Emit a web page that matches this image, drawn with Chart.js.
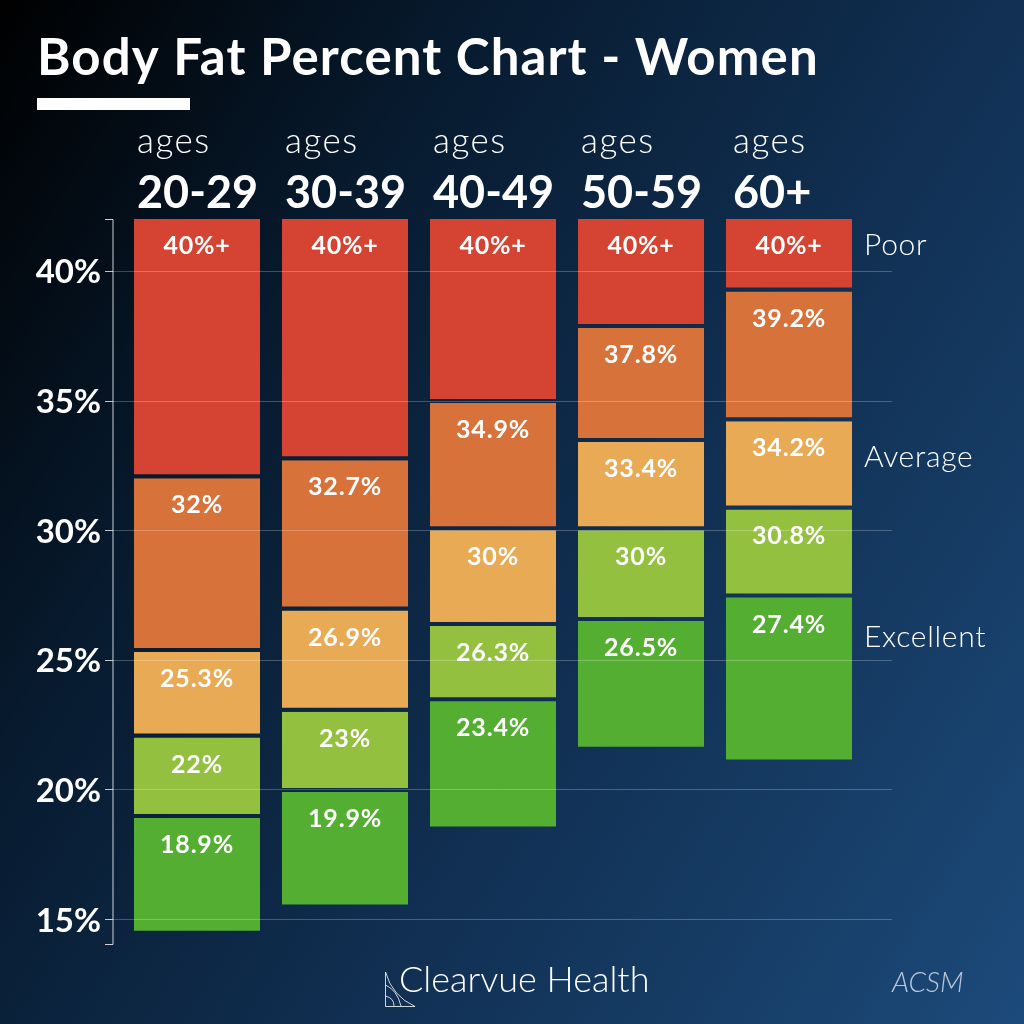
<!DOCTYPE html>
<html>
<head>
<meta charset="utf-8">
<title>Body Fat Percent Chart - Women</title>
<script src="https://cdn.jsdelivr.net/npm/chart.js@4"></script>
<style>
  html, body { margin: 0; padding: 0; }
  body { width: 1024px; height: 1024px; overflow: hidden; background: linear-gradient(122deg, #000000 0%, #071a2e 28%, #102e50 58%, #1c4a7a 100%); }
  canvas { display: block; }
</style>
</head>
<body>
<canvas id="chart" width="1024" height="1024"></canvas>
<script>
const ages = ['20-29', '30-39', '40-49', '50-59', '60+']
const yTicks = [15, 20, 25, 30, 35, 40]
const ratings = ['Poor', 'Average', 'Excellent']

// top of each coloured block
const poorTop = [42, 42, 42, 42, 42]
const highTop = [32, 32.7, 34.9, 37.8, 39.2]
const averageTop = [25.3, 26.9, 30, 33.4, 34.2]
const goodTop = [22, 23, 26.3, 30, 30.8]
const excellentTop = [18.9, 19.9, 23.4, 26.5, 27.4]
const excellentBottom = [14.55, 15.56, 18.57, 21.65, 21.15]

const bandColors = ['#d54432', '#d8723b', '#e9aa55', '#93c13f', '#53ae32']
const FONT = 'Lato, sans-serif'

function getFloatingBars(tops, bottoms) {
  return tops.map((top, i) => [bottoms[i], top])
}

function getDataset(tops, bottoms, color, gap = 4) {
  return {
    data: getFloatingBars(tops, bottoms),
    backgroundColor: color,
    borderColor: 'transparent',
    borderWidth: { top: 0, left: 0, right: 0, bottom: gap },
    borderSkipped: false,
    inflateAmount: 0,
    barThickness: 126,
    grouped: false,
  }
}

function drawText(ctx, text, x, y, font, align = 'left', color = '#fff', spacing = '0px') {
  ctx.font = font
  ctx.textAlign = align
  ctx.textBaseline = 'alphabetic'
  ctx.fillStyle = color
  ctx.letterSpacing = spacing
  ctx.fillText(text, x, y)
  ctx.letterSpacing = '0px'
}

const decorPlugin = {
  id: 'decor',
  afterDatasetsDraw(chart) {
    const { ctx, scales: { x, y } } = chart
    ctx.save()

    // grid lines run over the bars and past the plot area
    ctx.lineWidth = 1
    yTicks.forEach(tick => {
      const py = Math.round(y.getPixelForValue(tick)) + 0.5
      ctx.strokeStyle = 'rgba(255,255,255,0.24)'
      ctx.beginPath()
      ctx.moveTo(113, py)
      ctx.lineTo(892, py)
      ctx.stroke()
      ctx.strokeStyle = 'rgba(255,255,255,0.75)'
      ctx.beginPath()
      ctx.moveTo(105, py)
      ctx.lineTo(113, py)
      ctx.stroke()
    })

    // bracket on the left
    const top = y.getPixelForValue(y.max) + 0.5
    const bottom = y.getPixelForValue(y.min) - 0.5
    ctx.strokeStyle = 'rgba(255,255,255,0.8)'
    ctx.beginPath()
    ctx.moveTo(105, top)
    ctx.lineTo(113, top)
    ctx.lineTo(113, bottom)
    ctx.lineTo(105, bottom)
    ctx.stroke()

    // values inside the blocks
    chart.data.datasets.forEach((dataset, d) => {
      chart.getDatasetMeta(d).data.forEach((bar, i) => {
        const label = d === 0 ? '40%+' : dataset.data[i][1] + '%'
        drawText(ctx, label, bar.x, bar.y + 35, '700 25px ' + FONT, 'center', '#fff', '0.8px')
      })
    })

    // age headers
    ages.forEach((age, i) => {
      const left = x.getPixelForValue(i) - 60 + (i === 4 ? 4 : 0)
      drawText(ctx, 'ages', left, 153, '300 35px ' + FONT, 'left', '#fff', '1.5px')
      drawText(ctx, age, left, 208, '700 45px ' + FONT)
    })

    // rating names on the right
    const ratingY = [255, 467, 647]
    ratings.forEach((rating, i) => {
      drawText(ctx, rating, 864, ratingY[i], '300 30px ' + FONT, 'left', '#fff', '0.7px')
    })

    // title block
    drawText(ctx, 'Body Fat Percent Chart - Women', 37, 75, '700 51px ' + FONT, 'left', '#fff', '1.1px')
    ctx.fillStyle = '#fff'
    ctx.fillRect(37, 98, 153, 12)

    // footer
    ctx.strokeStyle = 'rgba(255,255,255,0.8)'
    ctx.beginPath()
    ctx.moveTo(385.5, 972)
    ctx.lineTo(385.5, 1006.5)
    ctx.lineTo(415, 1006.5)
    ctx.quadraticCurveTo(392, 996, 385.5, 972)
    ctx.moveTo(385.5, 985)
    ctx.quadraticCurveTo(397, 990, 401, 1006)
    ctx.moveTo(385.5, 996)
    ctx.quadraticCurveTo(394, 998, 394, 1006)
    ctx.stroke()
    drawText(ctx, 'Clearvue Health', 399, 992, '300 36px ' + FONT)
    drawText(ctx, 'ACSM', 892, 992, 'italic 300 28px ' + FONT, 'left', '#b9c8dc')

    ctx.restore()
  }
}

new Chart(document.getElementById('chart').getContext('2d'), {
  type: 'bar',
  data: {
    labels: ages,
    datasets: [
      getDataset(poorTop, highTop, bandColors[0]),
      getDataset(highTop, averageTop, bandColors[1]),
      getDataset(averageTop, goodTop, bandColors[2]),
      getDataset(goodTop, excellentTop, bandColors[3]),
      getDataset(excellentTop, excellentBottom, bandColors[4], 0),
    ],
  },
  options: {
    responsive: false,
    animation: false,
    layout: { padding: { top: 219, right: 161, bottom: 79, left: 0 } },
    plugins: { legend: { display: false }, tooltip: { enabled: false } },
    scales: {
      x: { display: false },
      y: {
        min: 14,
        max: 42,
        afterFit(axis) { axis.width = 123 },
        afterBuildTicks(axis) { axis.ticks = yTicks.map(value => ({ value })) },
        grid: { display: false },
        border: { display: false },
        ticks: {
          padding: 14,
          labelOffset: 2,
          color: '#fff',
          font: { family: 'Lato', size: 33, weight: '700' },
          callback: value => value + '%',
        },
      },
    },
  },
  plugins: [decorPlugin],
})
</script>
</body>
</html>
